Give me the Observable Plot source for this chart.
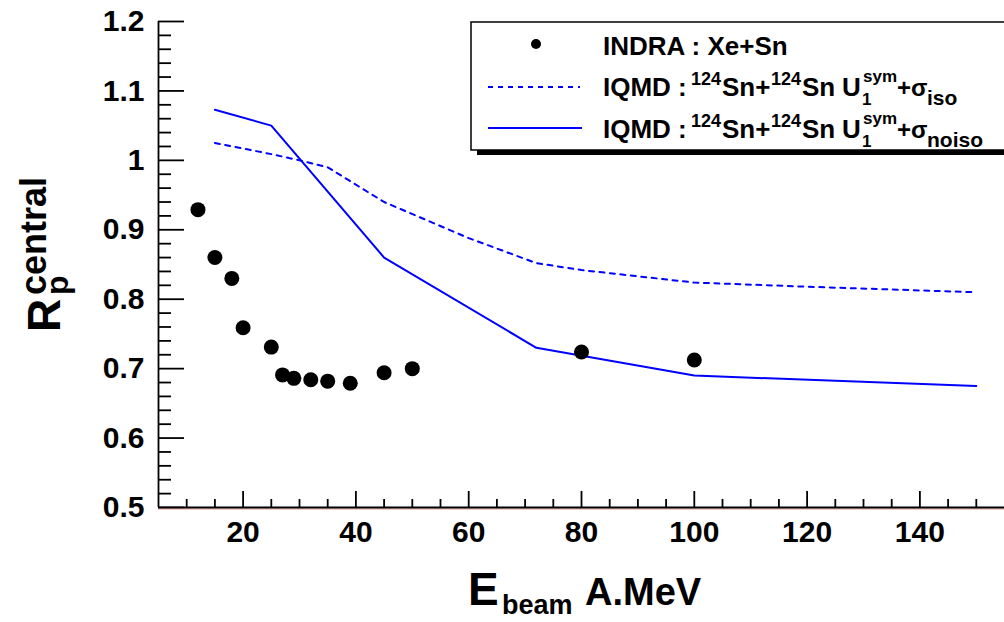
<!DOCTYPE html>
<html>
<head>
<meta charset="utf-8">
<script src="https://cdn.jsdelivr.net/npm/d3@7"></script>
<script src="https://cdn.jsdelivr.net/npm/@observablehq/plot@0.6"></script>
<style>
  html, body { margin: 0; padding: 0; background: white; }
  #chart { width: 1004px; height: 622px; }
</style>
</head>
<body>
<div id="chart"></div>
<script>
// INDRA Xe+Sn data points
const indraEnergy = [12, 15, 18, 20, 25, 27, 29, 32, 35, 39, 45, 50, 80, 100];
const indraRatio  = [0.929, 0.860, 0.830, 0.759, 0.731, 0.691, 0.686, 0.684, 0.682, 0.679, 0.694, 0.700, 0.724, 0.7125];

// IQMD U1sym + sigma_iso (dashed)
const isoEnergy = [15, 25, 30, 35, 45, 60, 72, 80, 100, 120, 150];
const isoRatio  = [1.025, 1.009, 1.0, 0.99, 0.94, 0.888, 0.852, 0.842, 0.824, 0.818, 0.81];

// IQMD U1sym + sigma_noiso (solid)
const noisoEnergy = [15, 25, 45, 72, 100, 150];
const noisoRatio  = [1.073, 1.05, 0.86, 0.73, 0.69, 0.675];

// axis ticks
const yMajorTicks = [0.5, 0.6, 0.7, 0.8, 0.9, 1.0, 1.1, 1.2];
const yMinorTicks = d3.range(25, 61).map(d => d / 50).filter(v => Math.abs(v * 10 - Math.round(v * 10)) > 1e-6);
const xMajorTicks = [20, 40, 60, 80, 100, 120, 140];
const xMinorTicks = d3.range(10, 155, 5).filter(v => v % 20 !== 0);

const indra = indraEnergy.map((e, i) => ({e, r: indraRatio[i]}));
const iso = isoEnergy.map((e, i) => ({e, r: isoRatio[i]}));
const noiso = noisoEnergy.map((e, i) => ({e, r: noisoRatio[i]}));

const FONT = "'Liberation Sans', Arial, Helvetica, sans-serif";

const W = 1004, H = 622, ML = 158, MR = 0, MT = 21, MB = 115;
const frameW = W - ML - MR, frameH = H - MT - MB;

// ROOT-style inward ticks, as frame-spanning rules shortened with pixel insets
const tk = {stroke: "black", strokeWidth: 1.8};

const chart = Plot.plot({
  width: W,
  height: H,
  marginLeft: ML,
  marginRight: MR,
  marginTop: MT,
  marginBottom: MB,
  x: {domain: [5, 155]},
  y: {domain: [0.5, 1.2]},
  style: {fontFamily: FONT, fontWeight: "bold", color: "black", background: "white"},
  marks: [
    Plot.ruleY(yMajorTicks, {...tk, insetRight: frameW - 26}),
    Plot.ruleY(yMinorTicks, {...tk, insetRight: frameW - 13}),
    Plot.ruleX(xMajorTicks, {...tk, insetTop: frameH - 16}),
    Plot.ruleX(xMinorTicks, {...tk, insetTop: frameH - 8}),
    // tick labels
    Plot.axisY(yMajorTicks, {tickSize: 0, tickPadding: 14, fontSize: 30, label: null, tickFormat: d3.format("~g")}),
    Plot.axisX(xMajorTicks, {tickSize: 0, tickPadding: 13, fontSize: 30, label: null}),
    // axis lines
    Plot.ruleY([0.5], {stroke: "#f2b8b8", strokeWidth: 1.5, dy: 1.5}),
    Plot.ruleX([5], {stroke: "black", strokeWidth: 1.8}),
    Plot.ruleY([0.5], {stroke: "black", strokeWidth: 1.8}),
    // data
    Plot.line(iso, {x: "e", y: "r", stroke: "blue", strokeWidth: 2, strokeDasharray: "5,5.5"}),
    Plot.line(noiso, {x: "e", y: "r", stroke: "blue", strokeWidth: 2}),
    Plot.dot(indra, {x: "e", y: "r", r: 7.5, fill: "black", stroke: "none"})
  ]
});
document.getElementById("chart").appendChild(chart);

// ---- legend & axis titles ----
const svg = d3.select(chart);
const leg = svg.append("g").attr("font-family", FONT).attr("font-weight", "bold")
  .attr("fill", "black").attr("text-anchor", "start");
leg.append("rect").attr("x", 477).attr("y", 150).attr("width", 600).attr("height", 5).attr("fill", "black");
leg.append("rect").attr("x", 471).attr("y", 22).attr("width", 600).attr("height", 128)
  .attr("fill", "white").attr("stroke", "black").attr("stroke-width", 1.5);
leg.append("circle").attr("cx", 536).attr("cy", 44).attr("r", 5).attr("fill", "black");
leg.append("line").attr("x1", 488).attr("x2", 580).attr("y1", 87).attr("y2", 87)
  .attr("stroke", "blue").attr("stroke-width", 2).attr("stroke-dasharray", "5,5");
leg.append("line").attr("x1", 488).attr("x2", 582).attr("y1", 128).attr("y2", 128)
  .attr("stroke", "blue").attr("stroke-width", 2);

function txt(parent, x, y, s, size) {
  parent.append("text").attr("x", x).attr("y", y).attr("font-size", size)
    .attr("text-anchor", "start").text(s);
}
txt(leg, 603, 55, "INDRA : Xe+Sn", 26);

function iqmdLine(base, sub) {
  txt(leg, 603, base, "IQMD :", 26);
  txt(leg, 691, base - 11, "124", 18);
  txt(leg, 722, base, "Sn+", 26);
  txt(leg, 771, base - 11, "124", 18);
  txt(leg, 802, base, "Sn", 26);
  txt(leg, 842, base, "U", 26);
  txt(leg, 863, base - 14, "sym", 17);
  txt(leg, 862, base + 9, "1", 17);
  txt(leg, 897, base, "+σ", 24);
  txt(leg, 927, base + 9, sub, 21);
}
iqmdLine(96, "iso");
iqmdLine(138, "noiso");

// y title: R_p^central (rotated)
const yt = svg.append("g").attr("font-family", FONT).attr("font-weight", "bold").attr("fill", "black")
  .attr("text-anchor", "start")
  .attr("transform", "translate(60,332) rotate(-90)");
txt(yt, 0, 0, "R", 46);
txt(yt, 37, 8, "p", 32);
txt(yt, 37, -14, "central", 36);

// x title: E_beam A.MeV
const xt = svg.append("g").attr("font-family", FONT).attr("font-weight", "bold").attr("fill", "black")
  .attr("text-anchor", "start");
txt(xt, 468, 605, "E", 46);
txt(xt, 502, 614, "beam", 27);
txt(xt, 585, 605, "A.MeV", 38);
</script>
</body>
</html>
